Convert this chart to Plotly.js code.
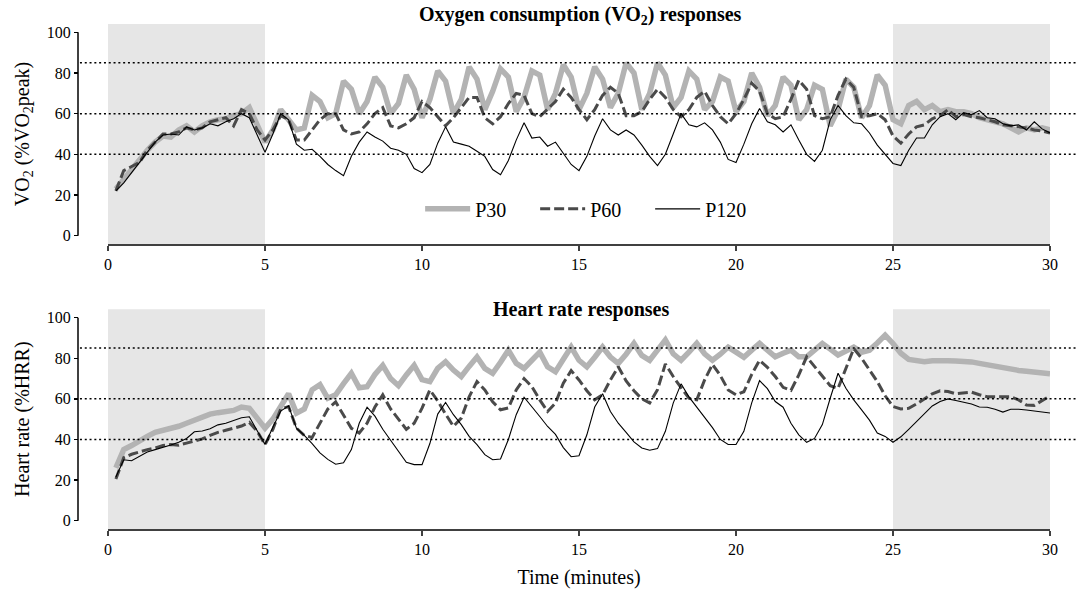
<!DOCTYPE html>
<html>
<head>
<meta charset="utf-8">
<script src="https://cdn.plot.ly/plotly-3.0.1.min.js"></script>
<style>html,body{margin:0;padding:0;background:#fff;}#chart{width:1079px;height:590px;}</style>
</head>
<body>
<div id="chart"></div>
<script>
const time = [0.25,0.5,0.75,1,1.25,1.5,1.75,2,2.25,2.5,2.75,3,3.25,3.5,3.75,4,4.25,4.5,4.75,5,
5.25,5.5,5.75,6,6.25,6.5,6.75,7,7.25,7.5,7.75,8,8.25,8.5,8.75,9,9.25,9.5,9.75,10,
10.25,10.5,10.75,11,11.25,11.5,11.75,12,12.25,12.5,12.75,13,13.25,13.5,13.75,14,14.25,14.5,14.75,15,
15.25,15.5,15.75,16,16.25,16.5,16.75,17,17.25,17.5,17.75,18,18.25,18.5,18.75,19,19.25,19.5,19.75,20,
20.25,20.5,20.75,21,21.25,21.5,21.75,22,22.25,22.5,22.75,23,23.25,23.5,23.75,24,24.25,24.5,24.75,25,
25.25,25.5,25.75,26,26.25,26.5,26.75,27,27.25,27.5,27.75,28,28.25,28.5,28.75,29,29.25,29.5,29.75,30];

const vo2P30 = [23,28,33,38,42,46,49,48.5,52,54,51,54,56,57,57.5,59,60,63,54,46,
52,62,57,52, 53,69,66,58, 60,76,72,60, 66,78,73,60, 65,79,72,58,
67,81,76,60, 67,83,77,62, 71,82,78,61, 68,81,79,62, 70,84,78,62,
70,83,77,63, 70,85,80,62, 70,85,79,63, 68,81,77,62, 66,78,76,61,
66,80,73,59, 64,78,74,57, 62,74,72,54, 62,77,73,58, 64,79,74,57,
55,64,66,62, 64,61,62,61, 61,60,58,57, 56,55,53,51, 53,52,53,52];

const vo2P60 = [22,32,34,36,42,46,50,50,51,53,52,53,56,57,58,54,62,60,52,47,
52,59,57,47, 47,52,57,60, 60,52,50,51, 55,60,63,54, 53,55,58,66,
63,58.5,54,58, 63,68,68,58, 55,58.5,65,70, 69,60,58.5,62, 66,72,68,62,
57,62,69,73, 70,59,59,61, 67,72,68,62, 58.5,62,68,71, 64,58.5,55,60,
67,75,71,60, 57.5,58.5,67,76.5, 72,59,57.5,58.5, 69,77,73,58.5, 59,60,57,49,
45.5,50,53.5,54.5, 57.5,59,62,58.5, 59.5,58.5,58,57, 56,54.5,54,53.5, 53,52,51.5,50.5];

const vo2P120 = [22,26,31,36,41,46,49.5,50,49.5,53.5,52,53,55,54,56,57.5,60,58,49.5,41,
50,60,57,45, 42,42.5,39,35, 32,29.5,39,46, 51,48.5,46.5,43, 42,40,33,31,
35,45.5,53.5,46, 45,44,41.5,39, 32.5,30,37,47, 55.5,48,48.5,44, 46,40.5,35,32,
39,49,57.5,52, 49.5,52,49.5,44.5, 39,34.5,40,50, 60,54.5,53.5,55.5, 52,46,37.5,36,
45,55,62.5,56, 54.5,51,54.5,47, 40,36.5,42,57, 64,59,55.5,55, 50.5,44.5,40,35.5,
34.5,42,48,48, 54.5,58.5,60,57, 60.5,59.5,61.5,58, 57.5,55,54,54.5, 52,56,52.5,50.5];

const hrP30 = [26,35,37,39.5,41.5,43.5,44.3,45.3,46.5,48,49.5,51,52.5,53.2,53.5,54.3,56,55.4,50.5,45.6,
50,56.5,62.5,53, 55,64.5,67,60.3, 62,67.5,72.6,65.5, 66,72,76.5,70, 66.5,71.8,76.5,69.5,
68.5,75,78.3,74.2, 71,76,80.6,75, 72.6,78,84,77.5, 75,79,83,75.8, 73.4,79.5,85.5,79,
75.8,80.5,85.5,80.6, 77.5,82,87.3,81.4, 79,84,89,82.2, 79,83,87.3,82.2, 79,82,85.5,83,
80.5,84,87.3,84, 80.7,82.5,84,80.7, 80.7,84,87.3,84.5, 81.6,83.5,85.5,83, 84,87.5,91.4,87.3,
82.5,79.4,78.5,78.3, 78.8,79,78.8,78.6, 78.5,78.2,77.5,76.7, 76,75,74.3,74, 73.6,73.2,72.8,72.3];

const hrP60 = [20.5,31,32.7,34,35,35.8,37,37.5,37.2,38.2,39.3,40.3,42,43.5,44.5,45.4,46.6,48.4,44,37.5,
45,55,56.2,45.6, 42,41,48,55, 58.5,52,45.5,43.2, 48,56,62,55, 49.7,45,48,55.4,
64.4,59,52.5,46.5, 50.5,61,68.5,64.4, 58.5,54.6,55.5,64.4, 70,66,59.5,53.8, 58,67.7,73.9,69.3,
64,59.5,62,69.3, 75.8,68.8,64,60, 58,64.5,77.2,71, 65.5,60.3,59.5,69.3, 77,71.5,64.4,62,
63.5,72,79,75.5, 71,65.7,64.2,71.8, 80.7,75.8,71,66.5, 65.2,75,84.8,80, 74.5,68.5,61.5,56.2,
55,55.3,57.5,60, 62.5,64,63.6,62.5, 62.8,63.3,62,61, 61,61,61,59.5, 57,56.8,59,61.5];

const hrP120 = [21.5,30,29.5,31.5,33.8,35,36,37.3,38.6,40.5,43.8,44.2,45.3,47.2,48,49.3,50.7,51.2,44,37.5,
46,54,56.6,45.6, 42,38,33.4,30.2, 27.8,28.5,35,48, 55.9,51.5,45,39.5, 34.5,28.8,27.6,27.6,
38,52.5,58.2,52.2, 47.3,41.5,37.5,32.5, 30,30.4,40,52.2, 60.8,56.2,51.3,46.4, 42.5,36,31.5,32,
42.3,56,62.5,53.8, 48,43.5,38.8,35.8, 34.7,35.5,44,57.9, 67.4,61,55.9,51.3, 45.8,40,37.5,37.5,
44,58,69,65, 58.7,55.9,48,42.3, 38.6,40.5,47.3,60.3, 72.6,65.2,59.5,54.6, 49.5,43.2,41.5,38.6,
41.3,45,49,53, 56.5,58.7,60,59.2, 58.2,57.5,56,55.9, 54.9,53.5,54.9,54.9, 54.5,54,53.5,53];

const seriesNames = ['P30','P60','P120'];
const yTicks = [0,20,40,60,80,100];
const xTicks = [0,5,10,15,20,25,30];
const refLevels = [40,60,85];
const restBands = [[0,5],[25,30]];

const FONT = 'Liberation Serif, Times New Roman, serif';
const styles = [
  {color:'#b3b3b3', width:5.5, dash:'solid'},
  {color:'#4a4a4a', width:3, dash:'10px,4px'},
  {color:'#000000', width:1.1, dash:'solid'}
];

const topData = [vo2P30, vo2P60, vo2P120];
const botData = [hrP30, hrP60, hrP120];
const traces = [];
topData.forEach((ys,i)=>traces.push({x:time, y:ys, type:'scatter', mode:'lines', name:seriesNames[i],
  xaxis:'x', yaxis:'y', line:styles[i], showlegend:true}));
botData.forEach((ys,i)=>traces.push({x:time, y:ys, type:'scatter', mode:'lines', name:seriesNames[i],
  xaxis:'x2', yaxis:'y2', line:styles[i], showlegend:false}));

const shapes = [];
[['x','y'],['x2','y2']].forEach(([xa,ya])=>{
  restBands.forEach(b=>shapes.push({type:'rect', xref:xa, yref:ya+' domain', x0:b[0], x1:b[1], y0:0, y1:1,
    fillcolor:'#e6e6e6', line:{width:0}, layer:'below'}));
  refLevels.forEach(v=>shapes.push({type:'line', xref:'paper', yref:ya, x0:0.002, x1:1.0288, y0:v, y1:v,
    line:{color:'#000', width:1.5, dash:'2px,2.8px'}}));
  shapes.push({type:'line', xref:'paper', yref:ya, x0:0, x1:0, y0:0, y1:100, line:{color:'#000', width:1.5}});
});

const xDomain = [0.0309, 1];
const xaxisBase = {domain:xDomain, range:[0,30], tickvals:xTicks, showgrid:false, zeroline:false,
  showline:true, linecolor:'#404040', linewidth:2, ticks:'outside', ticklen:5, tickwidth:2, tickcolor:'#404040',
  tickfont:{family:FONT, size:16, color:'#000'}};
const yaxisBase = {range:[-4.1,104.1], tickvals:yTicks, showgrid:false, zeroline:false, showline:false,
  anchor:'free', position:0, ticks:'outside', ticklen:4, tickwidth:1.5, tickcolor:'#000',
  tickfont:{family:FONT, size:16, color:'#000'}};

const layout = {
  width:1079, height:590,
  margin:{l:78, r:29, t:24, b:61},
  paper_bgcolor:'#fff', plot_bgcolor:'rgba(0,0,0,0)',
  font:{family:FONT, color:'#000'},
  showlegend:true,
  legend:{orientation:'h', x:0.352, xanchor:'left', y:0.634, yanchor:'middle',
    font:{family:FONT, size:20, color:'#000'}, bgcolor:'rgba(0,0,0,0)', itemwidth:45, entrywidth:55},
  xaxis:Object.assign({}, xaxisBase, {anchor:'y'}),
  yaxis:Object.assign({}, yaxisBase, {domain:[0.5644,1],
    title:{text:'VO<sub>2</sub> (%VO<sub>2</sub>peak)', font:{family:FONT, size:20}, standoff:10}}),
  xaxis2:Object.assign({}, xaxisBase, {anchor:'y2',
    title:{text:'Time (minutes)', font:{family:FONT, size:20}, standoff:13}}),
  yaxis2:Object.assign({}, yaxisBase, {domain:[0,0.435],
    title:{text:'Heart rate (%HRR)', font:{family:FONT, size:20}, standoff:10}}),
  shapes:shapes,
  annotations:[
    {text:'<b>Oxygen consumption (VO<sub>2</sub>) responses</b>', xref:'paper', yref:'paper', x:0.517, y:1.0178,
      xanchor:'center', yanchor:'middle', showarrow:false, font:{family:FONT, size:20}},
    {text:'<b>Heart rate responses</b>', xref:'paper', yref:'paper', x:0.517, y:0.434,
      xanchor:'center', yanchor:'middle', showarrow:false, font:{family:FONT, size:20}}
  ],
  hovermode:false
};

Plotly.newPlot('chart', traces, layout, {staticPlot:true, displayModeBar:false});
</script>
</body>
</html>
